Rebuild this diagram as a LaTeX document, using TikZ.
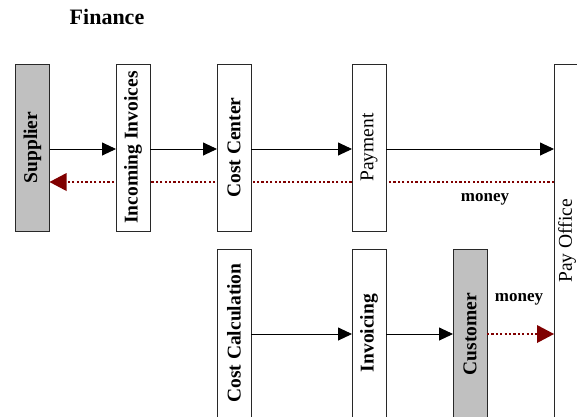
\documentclass[tikz,border=0pt]{standalone}
\usepackage{fontspec}
\setmainfont{Liberation Serif}
\usetikzlibrary{arrows.meta,backgrounds}
\definecolor{moneyred}{RGB}{128,0,0}
\definecolor{actorgray}{RGB}{192,192,192}
\definecolor{boxline}{RGB}{40,40,40}
\tikzset{
  box/.style={draw=boxline, line width=0.9pt, fill=white, minimum width=34pt, inner sep=0pt, outer sep=0pt},
  upbox/.style={box, minimum height=167pt},
  lowbox/.style={box, minimum height=170pt},
  actor/.style={fill=actorgray},
  lbl/.style={rotate=90, font=\fontsize{19.5}{20}\selectfont\bfseries, inner sep=0pt},
  lblr/.style={rotate=90, font=\fontsize{19.5}{20}\selectfont, inner sep=0pt},
  flow/.style={draw=black, line width=0.9pt, -{Triangle[length=14pt,width=13pt]}},
  money/.style={draw=moneyred, line width=2.2pt, dash pattern=on 2.2pt off 2.2pt, -{Triangle[length=17pt,width=18pt,fill=moneyred,line width=0pt]}},
  moneytxt/.style={font=\fontsize{17}{18}\selectfont\bfseries, inner sep=0pt},
  title/.style={font=\fontsize{22}{24}\selectfont\bfseries, inner sep=0pt}
}
\begin{document}
\begin{tikzpicture}[x=1pt,y=-1pt]
\useasboundingbox (0,0) rectangle (577,416);
\node[title] (finance) at (107,17) {Finance};
% upper row
\node[upbox, actor] (supplier) at (32.5,147.5) {};
\node[lbl] at (supplier.center) {Supplier};
\node[upbox] (incoming) at (133,147.5) {};
\node[lbl] at (incoming.center) {Incoming Invoices};
\node[upbox] (costcenter) at (234,147.5) {};
\node[lbl] at (costcenter.center) {Cost Center};
\node[upbox] (payment) at (369,147.5) {};
\node[lblr] at (payment.center) {Payment};
% pay office
\node[box, minimum width=26pt, minimum height=360pt] (payoffice) at (567,244) {};
\node[lblr] at (567,241) {Pay Office};
% lower row
\node[lowbox] (costcalc) at (234,334) {};
\node[lbl] at (234,333) {Cost Calculation};
\node[lowbox] (invoicing) at (369,334) {};
\node[lbl] at (369,333) {Invoicing};
\node[lowbox, actor] (customer) at (470,334) {};
\node[lbl] at (470,334) {Customer};
% money flows
\coordinate (m1) at (0,182);
\begin{scope}[on background layer]
\fill[white] (0,0) rectangle (577,416);
\draw[money] (payoffice.west |- m1) -- (supplier.east |- m1);
\end{scope}
\node[moneytxt] (money1) at (485,199.5) {money};
\draw[money] (customer.east) -- (payoffice.west |- customer.east);
\node[moneytxt] (money2) at (519,299.5) {money};
% information flows
\coordinate (f1) at (0,149);
\draw[flow] (supplier.east |- f1) -- (incoming.west |- f1);
\draw[flow] (incoming.east |- f1) -- (costcenter.west |- f1);
\draw[flow] (costcenter.east |- f1) -- (payment.west |- f1);
\draw[flow] (payment.east |- f1) -- (payoffice.west |- f1);
\draw[flow] (costcalc.east) -- (invoicing.west);
\draw[flow] (invoicing.east) -- (customer.west);
\end{tikzpicture}
\end{document}
